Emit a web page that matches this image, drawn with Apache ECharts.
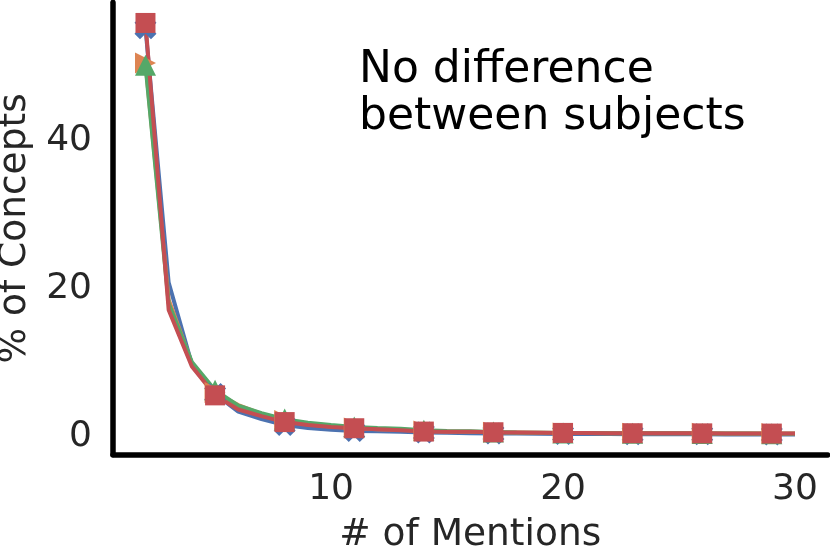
<!DOCTYPE html>
<html>
<head>
<meta charset="utf-8">
<script src="https://cdn.jsdelivr.net/npm/echarts@6/dist/echarts.min.js"></script>
<style>
  html, body { margin: 0; padding: 0; background: #fff; }
  #chart { width: 830px; height: 549px; }
</style>
</head>
<body>
<div id="chart"></div>
<script>
// # of mentions, 2..30
const mentions = [2, 3, 4, 5, 6, 7, 8, 9, 10, 11, 12, 13, 14, 15, 16, 17, 18, 19, 20, 21, 22, 23, 24, 25, 26, 27, 28, 29, 30]

// % of concepts per subject
const subjectA = [55.1, 20.8, 9.8, 5.8, 3.4, 2.4, 1.6, 1.2, 0.95, 0.8, 0.75, 0.7, 0.6, 0.55, 0.5, 0.45, 0.45, 0.42, 0.4, 0.4, 0.38, 0.37, 0.36, 0.35, 0.35, 0.34, 0.33, 0.33, 0.32]
const subjectB = [50.4, 18.5, 9.9, 6.0, 4.3, 3.1, 2.2, 1.7, 1.4, 1.2, 1.05, 0.95, 0.8, 0.72, 0.68, 0.63, 0.6, 0.57, 0.54, 0.52, 0.5, 0.5, 0.49, 0.48, 0.48, 0.47, 0.46, 0.45, 0.45]
const subjectC = [50.1, 18.0, 10.1, 6.3, 4.2, 3.2, 2.4, 1.9, 1.6, 1.35, 1.2, 1.1, 0.9, 0.8, 0.75, 0.65, 0.6, 0.57, 0.54, 0.52, 0.5, 0.5, 0.49, 0.48, 0.47, 0.46, 0.45, 0.44, 0.44]
const subjectD = [55.8, 17.1, 9.5, 5.6, 3.7, 2.8, 2.0, 1.6, 1.35, 1.17, 1.05, 0.9, 0.72, 0.7, 0.68, 0.63, 0.6, 0.57, 0.54, 0.52, 0.5, 0.5, 0.5, 0.48, 0.48, 0.47, 0.46, 0.45, 0.45]

const xTicks = [10, 20, 30]
const yTicks = [0, 20, 40]

const colors = ['#4c72b0', '#dd8452', '#55a868', '#c44e52']
const xMarker = 'path://M0,1 L1,0 L2,1 L3,0 L4,1 L3,2 L4,3 L3,4 L2,3 L1,4 L0,3 L1,2 Z'

// markers every 3rd point
function buildData (values) {
  return values.map((v, i) => {
    const item = { value: [mentions[i], v] }
    if (i % 3 !== 0) item.symbol = 'none'
    return item
  })
}

function makeSeries (values, color, symbol, size, rotate) {
  return {
    type: 'line',
    data: buildData(values),
    symbol: symbol,
    symbolSize: size,
    symbolRotate: rotate || 0,
    showAllSymbol: true,
    animation: false,
    lineStyle: { color: color, width: 4 },
    itemStyle: { color: color, borderWidth: 0, opacity: 1 }
  }
}

const tickFont = { fontFamily: 'DejaVu Sans', fontSize: 36, color: '#262626' }

const myChart = echarts.init(document.getElementById('chart'), null, { renderer: 'canvas' })
const option = {
  backgroundColor: '#fff',
  grid: { left: 113, right: 2.5, top: 2.4, bottom: 94.5, containLabel: false, outerBoundsMode: 'none' },
  xAxis: {
    type: 'value',
    min: 0.6,
    max: 31.4,
    splitNumber: 3,
    name: '# of Mentions',
    nameLocation: 'middle',
    nameGap: 81,
    nameMoveOverlap: false,
    nameTextStyle: { fontFamily: 'DejaVu Sans', fontSize: 37.5, color: '#262626', verticalAlign: 'middle' },
    axisLine: { onZero: false, lineStyle: { color: '#000', width: 5.5 } },
    axisTick: { show: false },
    splitLine: { show: false },
    axisLabel: Object.assign({
      margin: 17,
      showMinLabel: false,
      showMaxLabel: true,
      formatter: v => xTicks.includes(v) ? String(v) : ''
    }, tickFont)
  },
  yAxis: {
    type: 'value',
    min: -2.37,
    max: 58.57,
    splitNumber: 3,
    name: '% of Concepts',
    nameLocation: 'middle',
    nameGap: 98,
    nameMoveOverlap: false,
    nameTextStyle: { fontFamily: 'DejaVu Sans', fontSize: 37.5, color: '#262626', verticalAlign: 'middle' },
    axisLine: { onZero: false, lineStyle: { color: '#000', width: 5.5 } },
    axisTick: { show: false },
    splitLine: { show: false },
    axisLabel: Object.assign({
      margin: 21,
      showMinLabel: false,
      showMaxLabel: false,
      formatter: v => yTicks.includes(v) ? String(v) : ''
    }, tickFont)
  },
  graphic: [{
    type: 'text',
    left: 359,
    top: 47,
    style: {
      text: 'No difference\nbetween subjects',
      fontFamily: 'DejaVu Sans',
      fontSize: 44,
      lineHeight: 47,
      fill: '#000'
    }
  }],
  series: [
    makeSeries(subjectA, colors[0], xMarker, 22),
    makeSeries(subjectB, colors[1], 'triangle', 21, -90),
    makeSeries(subjectC, colors[2], 'triangle', 21),
    makeSeries(subjectD, colors[3], 'rect', 20)
  ]
}
myChart.setOption(option)
</script>
</body>
</html>
